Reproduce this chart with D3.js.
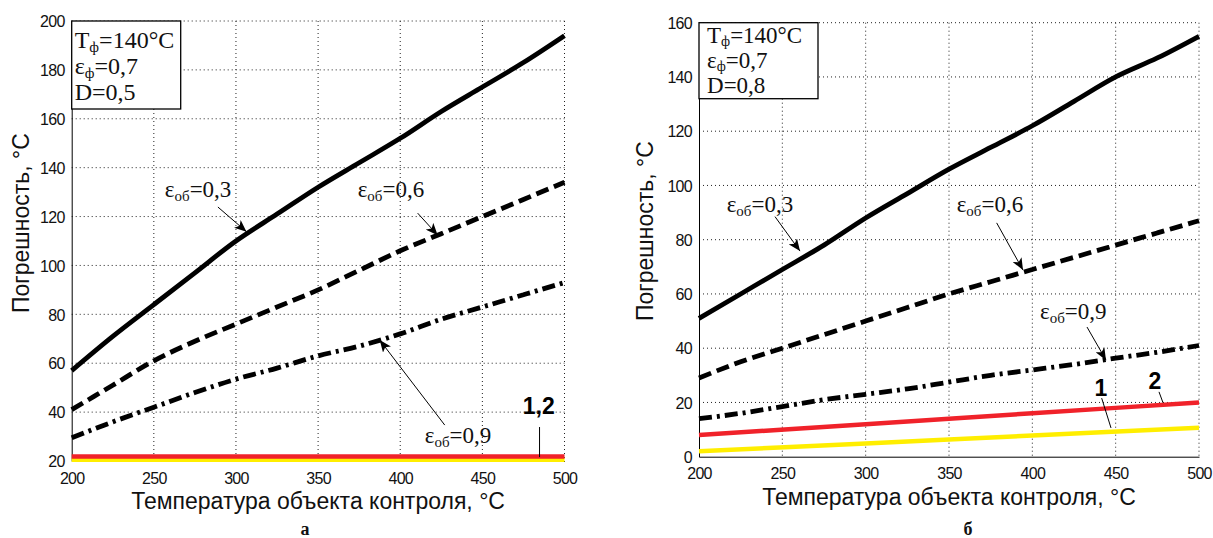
<!DOCTYPE html>
<html>
<head>
<meta charset="utf-8">
<script src="https://cdn.jsdelivr.net/npm/d3@7"></script>
<style>
  body { margin: 0; background: #fff; }
</style>
</head>
<body>
<svg width="1213" height="538"></svg>
<script>
// temperatures of the controlled object, °C
var temps = [200, 225, 250, 275, 300, 325, 350, 375, 400, 425, 450, 475, 500];
var xTicks = [200, 250, 300, 350, 400, 450, 500];
var yTicksA = [20, 40, 60, 80, 100, 120, 140, 160, 180, 200];
var yTicksB = [0, 20, 40, 60, 80, 100, 120, 140, 160];

// panel а (D=0,5)
var errA03 = [57, 71, 84, 97, 110, 121, 132, 142, 152, 163, 173, 183, 194];
var errA06 = [41, 51, 61, 69, 76, 83, 90, 98, 106, 113, 120, 127, 134];
var errA09 = [29.5, 36, 42, 48, 53.5, 58, 63, 67, 72, 78, 83, 88, 93];
var lineTemps = [200, 300, 400, 500];
var errA1 = [20.5, 20.5, 20.5, 20.5];
var errA2 = [21.8, 21.8, 21.8, 21.8];

// panel б (D=0,8)
var errB03 = [51, 60, 69, 78, 88, 97, 106, 114, 122, 131, 140, 147, 155];
var errB06 = [29, 35, 40, 45, 50, 55, 60, 64.5, 69, 73.5, 78, 82.5, 87];
var errB09 = [14, 16, 18.5, 21, 23, 25, 27.5, 30, 32, 34, 36.3, 38.5, 41];
var errB1 = [2, 4.9, 7.8, 10.7];
var errB2 = [8, 12, 16, 20];

var xTitle = "Температура объекта контроля, °С";
var yTitle = "Погрешность, °С";

var svg = d3.select("svg");

var defs = svg.append("defs");
defs.append("marker")
    .attr("id", "arrow")
    .attr("viewBox", "0 0 12 10")
    .attr("refX", 12).attr("refY", 5)
    .attr("markerWidth", 12).attr("markerHeight", 10)
    .attr("markerUnits", "userSpaceOnUse")
    .attr("orient", "auto")
  .append("path")
    .attr("d", "M0,0 L12,5 L0,10 L3,5 Z")
    .attr("fill", "#000");

function panel(cfg) {
  var x = d3.scaleLinear().domain([200, 500]).range([cfg.left, cfg.right]);
  var y = d3.scaleLinear().domain(cfg.yDomain).range([cfg.bottom, cfg.top]);
  var g = svg.append("g");

  // dotted grid
  g.selectAll(".vgrid").data(xTicks.slice(1)).enter().append("line")
      .attr("x1", function(d) { return x(d); }).attr("x2", function(d) { return x(d); })
      .attr("y1", cfg.top).attr("y2", cfg.bottom)
      .attr("stroke", "#222").attr("stroke-width", 1).attr("stroke-dasharray", "1,3");
  g.selectAll(".hgrid").data(cfg.yTicks.slice(1)).enter().append("line")
      .attr("x1", cfg.left).attr("x2", cfg.right)
      .attr("y1", function(d) { return y(d); }).attr("y2", function(d) { return y(d); })
      .attr("stroke", "#222").attr("stroke-width", 1).attr("stroke-dasharray", "1,3");

  // axes
  g.append("g")
      .attr("transform", "translate(0," + cfg.bottom + ")")
      .call(d3.axisBottom(x).tickValues(xTicks).tickSize(0).tickPadding(0))
      .call(function(a) {
        a.select(".domain").attr("stroke", "#000");
        a.selectAll("text").attr("y", 22.5).attr("dy", null)
          .attr("font-family", "Liberation Sans, Arial").attr("font-size", 16)
          .attr("letter-spacing", "-0.7px").attr("fill", "#111");
      });
  g.append("g")
      .attr("transform", "translate(" + cfg.left + ",0)")
      .call(d3.axisLeft(y).tickValues(cfg.yTicks).tickSize(0).tickPadding(7))
      .call(function(a) {
        a.select(".domain").attr("stroke", "#000");
        a.selectAll("text").attr("dy", "0.36em")
          .attr("font-family", "Liberation Sans, Arial").attr("font-size", 16)
          .attr("letter-spacing", "-0.7px").attr("fill", "#111");
      });

  // curves
  var line = d3.line()
      .curve(d3.curveMonotoneX)
      .x(function(d) { return x(d[0]); })
      .y(function(d) { return y(d[1]); });

  g.append("path").datum(d3.zip(lineTemps, cfg.e1)).attr("d", line)
      .attr("fill", "none").attr("stroke", "#ffee00").attr("stroke-width", 4.5);
  g.append("path").datum(d3.zip(lineTemps, cfg.e2)).attr("d", line)
      .attr("fill", "none").attr("stroke", "#f0222a").attr("stroke-width", 4.5);
  g.append("path").datum(d3.zip(temps, cfg.e09)).attr("d", line)
      .attr("fill", "none").attr("stroke", "#000").attr("stroke-width", 4.8)
      .attr("stroke-dasharray", "13,5,3,5");
  g.append("path").datum(d3.zip(temps, cfg.e06)).attr("d", line)
      .attr("fill", "none").attr("stroke", "#000").attr("stroke-width", 4.8)
      .attr("stroke-dasharray", "13,6");
  g.append("path").datum(d3.zip(temps, cfg.e03)).attr("d", line)
      .attr("fill", "none").attr("stroke", "#000").attr("stroke-width", 4.8);

  // parameter box
  g.append("rect")
      .attr("x", cfg.left).attr("y", cfg.top)
      .attr("width", cfg.boxW).attr("height", cfg.boxH)
      .attr("fill", "#fff").attr("stroke", "#000").attr("stroke-width", 1.3);
  var rows = [["T", "ф", "=140°C"], ["ε", "ф", "=0,7"], ["D", "", "=" + cfg.D]];
  rows.forEach(function(r, i) {
    var t = g.append("text")
        .attr("x", cfg.left + cfg.boxPad).attr("y", cfg.top + cfg.boxY0 + i * cfg.boxDy)
        .attr("font-family", "Liberation Serif, Times New Roman").attr("font-size", cfg.boxFont)
        .attr("fill", "#111");
    t.append("tspan").text(r[0]);
    if (r[1]) t.append("tspan").attr("font-size", cfg.subFont).attr("dy", cfg.subDy).text(r[1]);
    t.append("tspan").attr("dy", r[1] ? -cfg.subDy : 0).text(r[2]);
  });

  // ε labels with arrows
  cfg.notes.forEach(function(n) {
    var t = g.append("text")
        .attr("x", x(n.tx)).attr("y", y(n.ty))
        .attr("font-family", "Liberation Serif, Times New Roman").attr("font-size", 23)
        .attr("fill", "#111");
    t.append("tspan").text("ε");
    t.append("tspan").attr("font-size", 15).attr("dy", 4).text("об");
    t.append("tspan").attr("dy", -4).text("=" + n.label);
    g.append("line")
        .attr("x1", x(n.ax)).attr("y1", y(n.ay))
        .attr("x2", x(n.bx)).attr("y2", y(n.by))
        .attr("stroke", "#000").attr("stroke-width", 1)
        .attr("marker-end", "url(#arrow)");
  });

  // numbers of the straight lines
  cfg.nums.forEach(function(n) {
    g.append("text")
        .attr("x", x(n.tx)).attr("y", y(n.ty))
        .attr("text-anchor", "middle")
        .attr("font-family", "Liberation Sans, Arial").attr("font-weight", "bold")
        .attr("font-size", 23).attr("fill", "#000")
        .text(n.label);
    g.append("line")
        .attr("x1", x(n.ax)).attr("y1", y(n.ay))
        .attr("x2", x(n.bx)).attr("y2", y(n.by))
        .attr("stroke", "#000").attr("stroke-width", 1);
  });

  // titles
  g.append("text")
      .attr("x", (cfg.left + cfg.right) / 2).attr("y", cfg.bottom + 48)
      .attr("text-anchor", "middle")
      .attr("font-family", "Liberation Sans, Arial").attr("font-size", 23)
      .attr("fill", "#111")
      .text(xTitle);
  g.append("text")
      .attr("transform", "translate(" + cfg.yTitleX + "," + cfg.yTitleY + ") rotate(-90)")
      .attr("font-family", "Liberation Sans, Arial").attr("font-size", 23)
      .attr("fill", "#111")
      .text(yTitle);
  g.append("text")
      .attr("x", cfg.capX).attr("y", 535)
      .attr("text-anchor", "middle")
      .attr("font-family", "Liberation Serif, Times New Roman").attr("font-weight", "bold")
      .attr("font-size", 18).attr("fill", "#111")
      .text(cfg.caption);
}

panel({
  left: 71.7, right: 564.5, top: 21, bottom: 461,
  yDomain: [20, 200], yTicks: yTicksA,
  e03: errA03, e06: errA06, e09: errA09, e1: errA1, e2: errA2,
  boxW: 109, boxH: 88, boxPad: 3, boxY0: 27, boxDy: 26, D: "0,5",
  boxFont: 24, subFont: 15, subDy: 4,
  notes: [
    {label: "0,3", tx: 256.7, ty: 128.1, ax: 289, ay: 123.9, bx: 306.4, by: 113.8},
    {label: "0,6", tx: 374.1, ty: 128, ax: 410.6, ay: 121.4, bx: 422.8, by: 112.4},
    {label: "0,9", tx: 414.9, ty: 27.4, ax: 427.1, ay: 34.7, bx: 387.5, by: 69.5}
  ],
  nums: [
    {label: "1,2", tx: 484.3, ty: 39.2, ax: 484.8, ay: 33.9, bx: 484.8, by: 21.6}
  ],
  yTitleX: 29, yTitleY: 313, capX: 305, caption: "а"
});

panel({
  left: 699, right: 1199, top: 22.7, bottom: 456.7,
  yDomain: [0, 160], yTicks: yTicksB,
  e03: errB03, e06: errB06, e09: errB09, e1: errB1, e2: errB2,
  boxW: 119, boxH: 76, boxPad: 8, boxY0: 20, boxDy: 25, D: "0,8",
  boxFont: 23, subFont: 14, subDy: 3,
  notes: [
    {label: "0,3", tx: 216.6, ty: 90.3, ax: 245.6, ay: 88.5, bx: 260.6, by: 75.8},
    {label: "0,6", tx: 354.6, ty: 90.3, ax: 378.6, ay: 86.2, bx: 394.4, by: 68.8},
    {label: "0,9", tx: 404.6, ty: 50.8, ax: 432.8, ay: 47.8, bx: 444.2, by: 35.6}
  ],
  nums: [
    {label: "1", tx: 441.2, ty: 22.5, ax: 441.6, ay: 21.6, bx: 447.2, by: 10.6},
    {label: "2", tx: 473.6, ty: 24.8, ax: 476, ay: 23.9, bx: 478.4, by: 19.9}
  ],
  yTitleX: 653, yTitleY: 321, capX: 968, caption: "б"
});
</script>
</body>
</html>
